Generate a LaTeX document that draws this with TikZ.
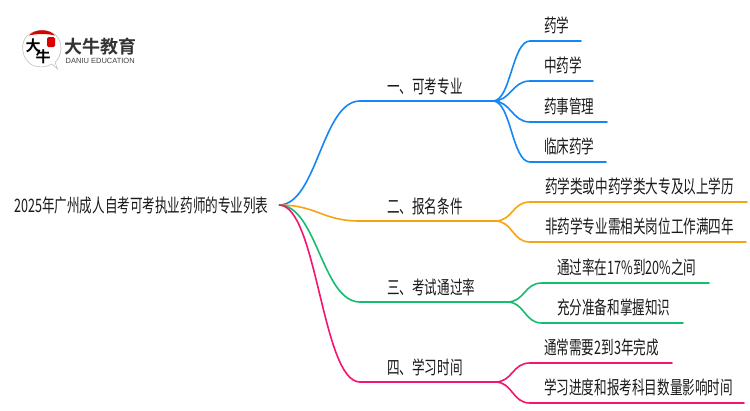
\documentclass[tikz,border=0pt]{standalone}
\usepackage{fontspec}
\setmainfont{Liberation Sans}
\newfontfamily\cjk[FakeStretch=0.68]{Noto Sans CJK SC}
\newfontfamily\cjkb{Noto Sans CJK SC Bold}
\newcommand{\lnk}[5]{\draw[#1,line width=1.6pt] (#2) .. controls ($(#2)+(#4,0)$) and ($(#3)+(-#5,0)$) .. (#3);}
\usetikzlibrary{calc}
\definecolor{cblue}{HTML}{1486F5}
\definecolor{corange}{HTML}{F5A511}
\definecolor{cgreen}{HTML}{14BE6E}
\definecolor{cpink}{HTML}{F5146E}
\definecolor{ctext}{HTML}{1A1A1A}
\tikzset{
  lab/.style={font=\cjk\fontsize{18.5}{20}\selectfont,text=ctext,inner sep=0pt,anchor=west},
  bar/.style={line width=1.6pt,line cap=round}
}
\begin{document}
\begin{tikzpicture}[x=1pt,y=-1pt]
\useasboundingbox (0,0) rectangle (750,410);
\fill[white] (0,0) rectangle (750,410);
% root and text nodes
\node[lab] (root) at (14,206) {2025年广州成人自考可考执业药师的专业列表};
\coordinate (o) at (279,205);
\node[lab] (b1) at (387,86) {一、可考专业};
\node[lab] (b2) at (387,206) {二、报名条件};
\node[lab] (b3) at (387,287) {三、考试通过率};
\node[lab] (b4) at (387,367) {四、学习时间};
\node[lab] (l11) at (544,25) {药学};
\node[lab] (l12) at (544,65) {中药学};
\node[lab] (l13) at (544,106) {药事管理};
\node[lab] (l14) at (544,146) {临床药学};
\node[lab] (l21) at (545,186) {药学类或中药学类大专及以上学历};
\node[lab] (l22) at (545,226) {非药学专业需相关岗位工作满四年};
\node[lab] (l31) at (557,267) {通过率在17\%到20\%之间};
\node[lab] (l32) at (557,307) {充分准备和掌握知识};
\node[lab] (l41) at (544,347) {通常需要2到3年完成};
\node[lab] (l42) at (544,387) {学习进度和报考科目数量影响时间};
% junctions
\coordinate (m1) at (360,101); \coordinate (f1) at (493,101);
\coordinate (m2) at (360,221); \coordinate (f2) at (495,221);
\coordinate (m3) at (360,302); \coordinate (f3) at (507,302);
\coordinate (m4) at (360,382); \coordinate (f4) at (495,382);
% blue
\lnk{cblue}{o}{m1}{38}{38}
\draw[bar,cblue] (m1) -- (f1);
\foreach \y/\e/\n in {41/581/a,81/593/b,122/607/c,162/606/d}{
  \coordinate (s\n) at (530,\y); \coordinate (e\n) at (\e,\y);
  \lnk{cblue}{f1}{s\n}{18}{18}
  \draw[bar,cblue] (s\n) -- (e\n);
}
% orange
\lnk{corange}{o}{m2}{38}{38}
\draw[bar,corange] (m2) -- (f2);
\foreach \y/\e/\n in {202/747/e,242/746/f}{
  \coordinate (s\n) at (530,\y); \coordinate (e\n) at (\e,\y);
  \lnk{corange}{f2}{s\n}{18}{18}
  \draw[bar,corange] (s\n) -- (e\n);
}
% green
\lnk{cgreen}{o}{m3}{38}{38}
\draw[bar,cgreen] (m3) -- (f3);
\foreach \y/\e/\n in {283/709/g,323/683/h}{
  \coordinate (s\n) at (542,\y); \coordinate (e\n) at (\e,\y);
  \lnk{cgreen}{f3}{s\n}{18}{18}
  \draw[bar,cgreen] (s\n) -- (e\n);
}
% pink
\lnk{cpink}{o}{m4}{38}{38}
\draw[bar,cpink] (m4) -- (f4);
\foreach \y/\e/\n in {363/672/i,403/744/j}{
  \coordinate (s\n) at (530,\y); \coordinate (e\n) at (\e,\y);
  \lnk{cpink}{f4}{s\n}{18}{18}
  \draw[bar,cpink] (s\n) -- (e\n);
}
% logo
\draw[black!25,line width=.6pt,fill=white] (57.5,69) -- (52,64) .. controls (46,67.5) and (38,68) .. (32,65)
  .. controls (20,58) and (20,40) .. (29,34.5) .. controls (36,29) and (48,29) .. (55,34.5)
  .. controls (64,42) and (62,56) .. (55,62.5) -- cycle;
\fill[red!85!black] (29,35.5) .. controls (35,28.5) and (49,28.5) .. (55,35.5) .. controls (47,33.5) and (37,33.5) .. cycle;
\fill[red!85!black,rounded corners=1.5pt] (47,37) rectangle (55,47);
\node[inner sep=0pt,font=\cjkb\fontsize{15}{15}\selectfont,text=black] (lg1) at (33,45.5) {大};
\node[inner sep=0pt,font=\cjkb\fontsize{15}{15}\selectfont,text=black] (lg2) at (43,56.5) {牛};
\node[inner sep=0pt,anchor=west,font=\cjkb\fontsize{18}{18}\selectfont,text=black!80] (lg3) at (64,46.5) {大牛教育};
\node[inner sep=0pt,anchor=west,font=\fontsize{7.5}{8}\selectfont,text=black!75] (lg4) at (65.5,60.5) {DANIU EDUCATION};
\end{tikzpicture}
\end{document}
